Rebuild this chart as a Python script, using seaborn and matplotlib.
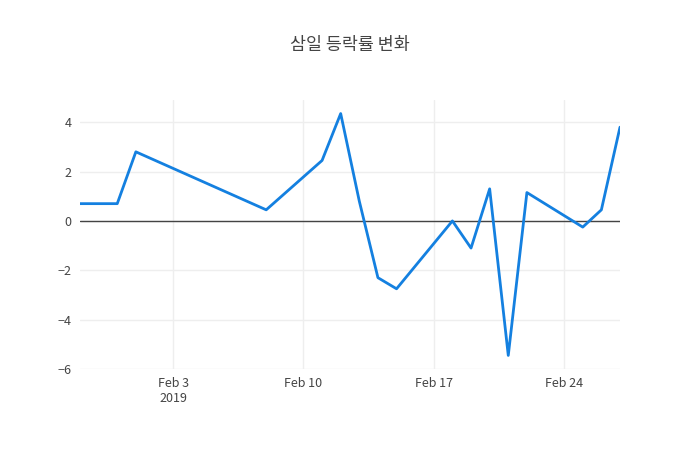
import pandas as pd
import matplotlib
matplotlib.use('Agg')
import matplotlib.pyplot as plt
import matplotlib.dates as mdates
import seaborn as sns

dates = ['2019-01-29', '2019-01-31', '2019-02-01', '2019-02-08', '2019-02-11',
         '2019-02-12', '2019-02-13', '2019-02-14', '2019-02-15', '2019-02-18',
         '2019-02-19', '2019-02-20', '2019-02-21', '2019-02-22', '2019-02-25',
         '2019-02-26', '2019-02-27']
changes = [0.7, 0.7, 2.8, 0.45, 2.45, 4.35, 0.8, -2.3, -2.75, 0.0,
           -1.1, 1.3, -5.45, 1.15, -0.25, 0.45, 3.8]
tick_dates = ['2019-02-03', '2019-02-10', '2019-02-17', '2019-02-24']
tick_labels = ['Feb 3\n2019', 'Feb 10', 'Feb 17', 'Feb 24']

df = pd.DataFrame({'date': pd.to_datetime(dates), 'change': changes})

sns.set_style('white')
plt.rcParams['font.family'] = ['Noto Sans CJK KR', 'DejaVu Sans']

fig = plt.figure(figsize=(7, 4.5), dpi=100)
ax = fig.add_axes([80 / 700, 1 - 369 / 450, 540 / 700, 269 / 450])
sns.lineplot(data=df, x='date', y='change', ax=ax, color='#1480e0', linewidth=2)

ax.set_xlim(df['date'].min(), df['date'].max())
ax.set_ylim(-6, 4.9)
ax.set_yticks([-6, -4, -2, 0, 2, 4])
ax.set_yticklabels(['−6', '−4', '−2', '0', '2', '4'])
ax.set_xticks(pd.to_datetime(tick_dates))
ax.set_xticklabels(tick_labels)
ax.grid(True, color='#eeeeee', linewidth=1)
ax.axhline(0, color='#444444', linewidth=1, zorder=1)
for s in ax.spines.values():
    s.set_visible(False)
ax.tick_params(length=0, labelsize=9, colors='#444444', pad=6)
ax.set_xlabel('')
ax.set_ylabel('')
fig.suptitle('삼일 등락률 변화', x=0.5, y=1 - 45 / 450, va='center', fontsize=12.5, color='#444444')

fig.savefig('out.png', dpi=100)
